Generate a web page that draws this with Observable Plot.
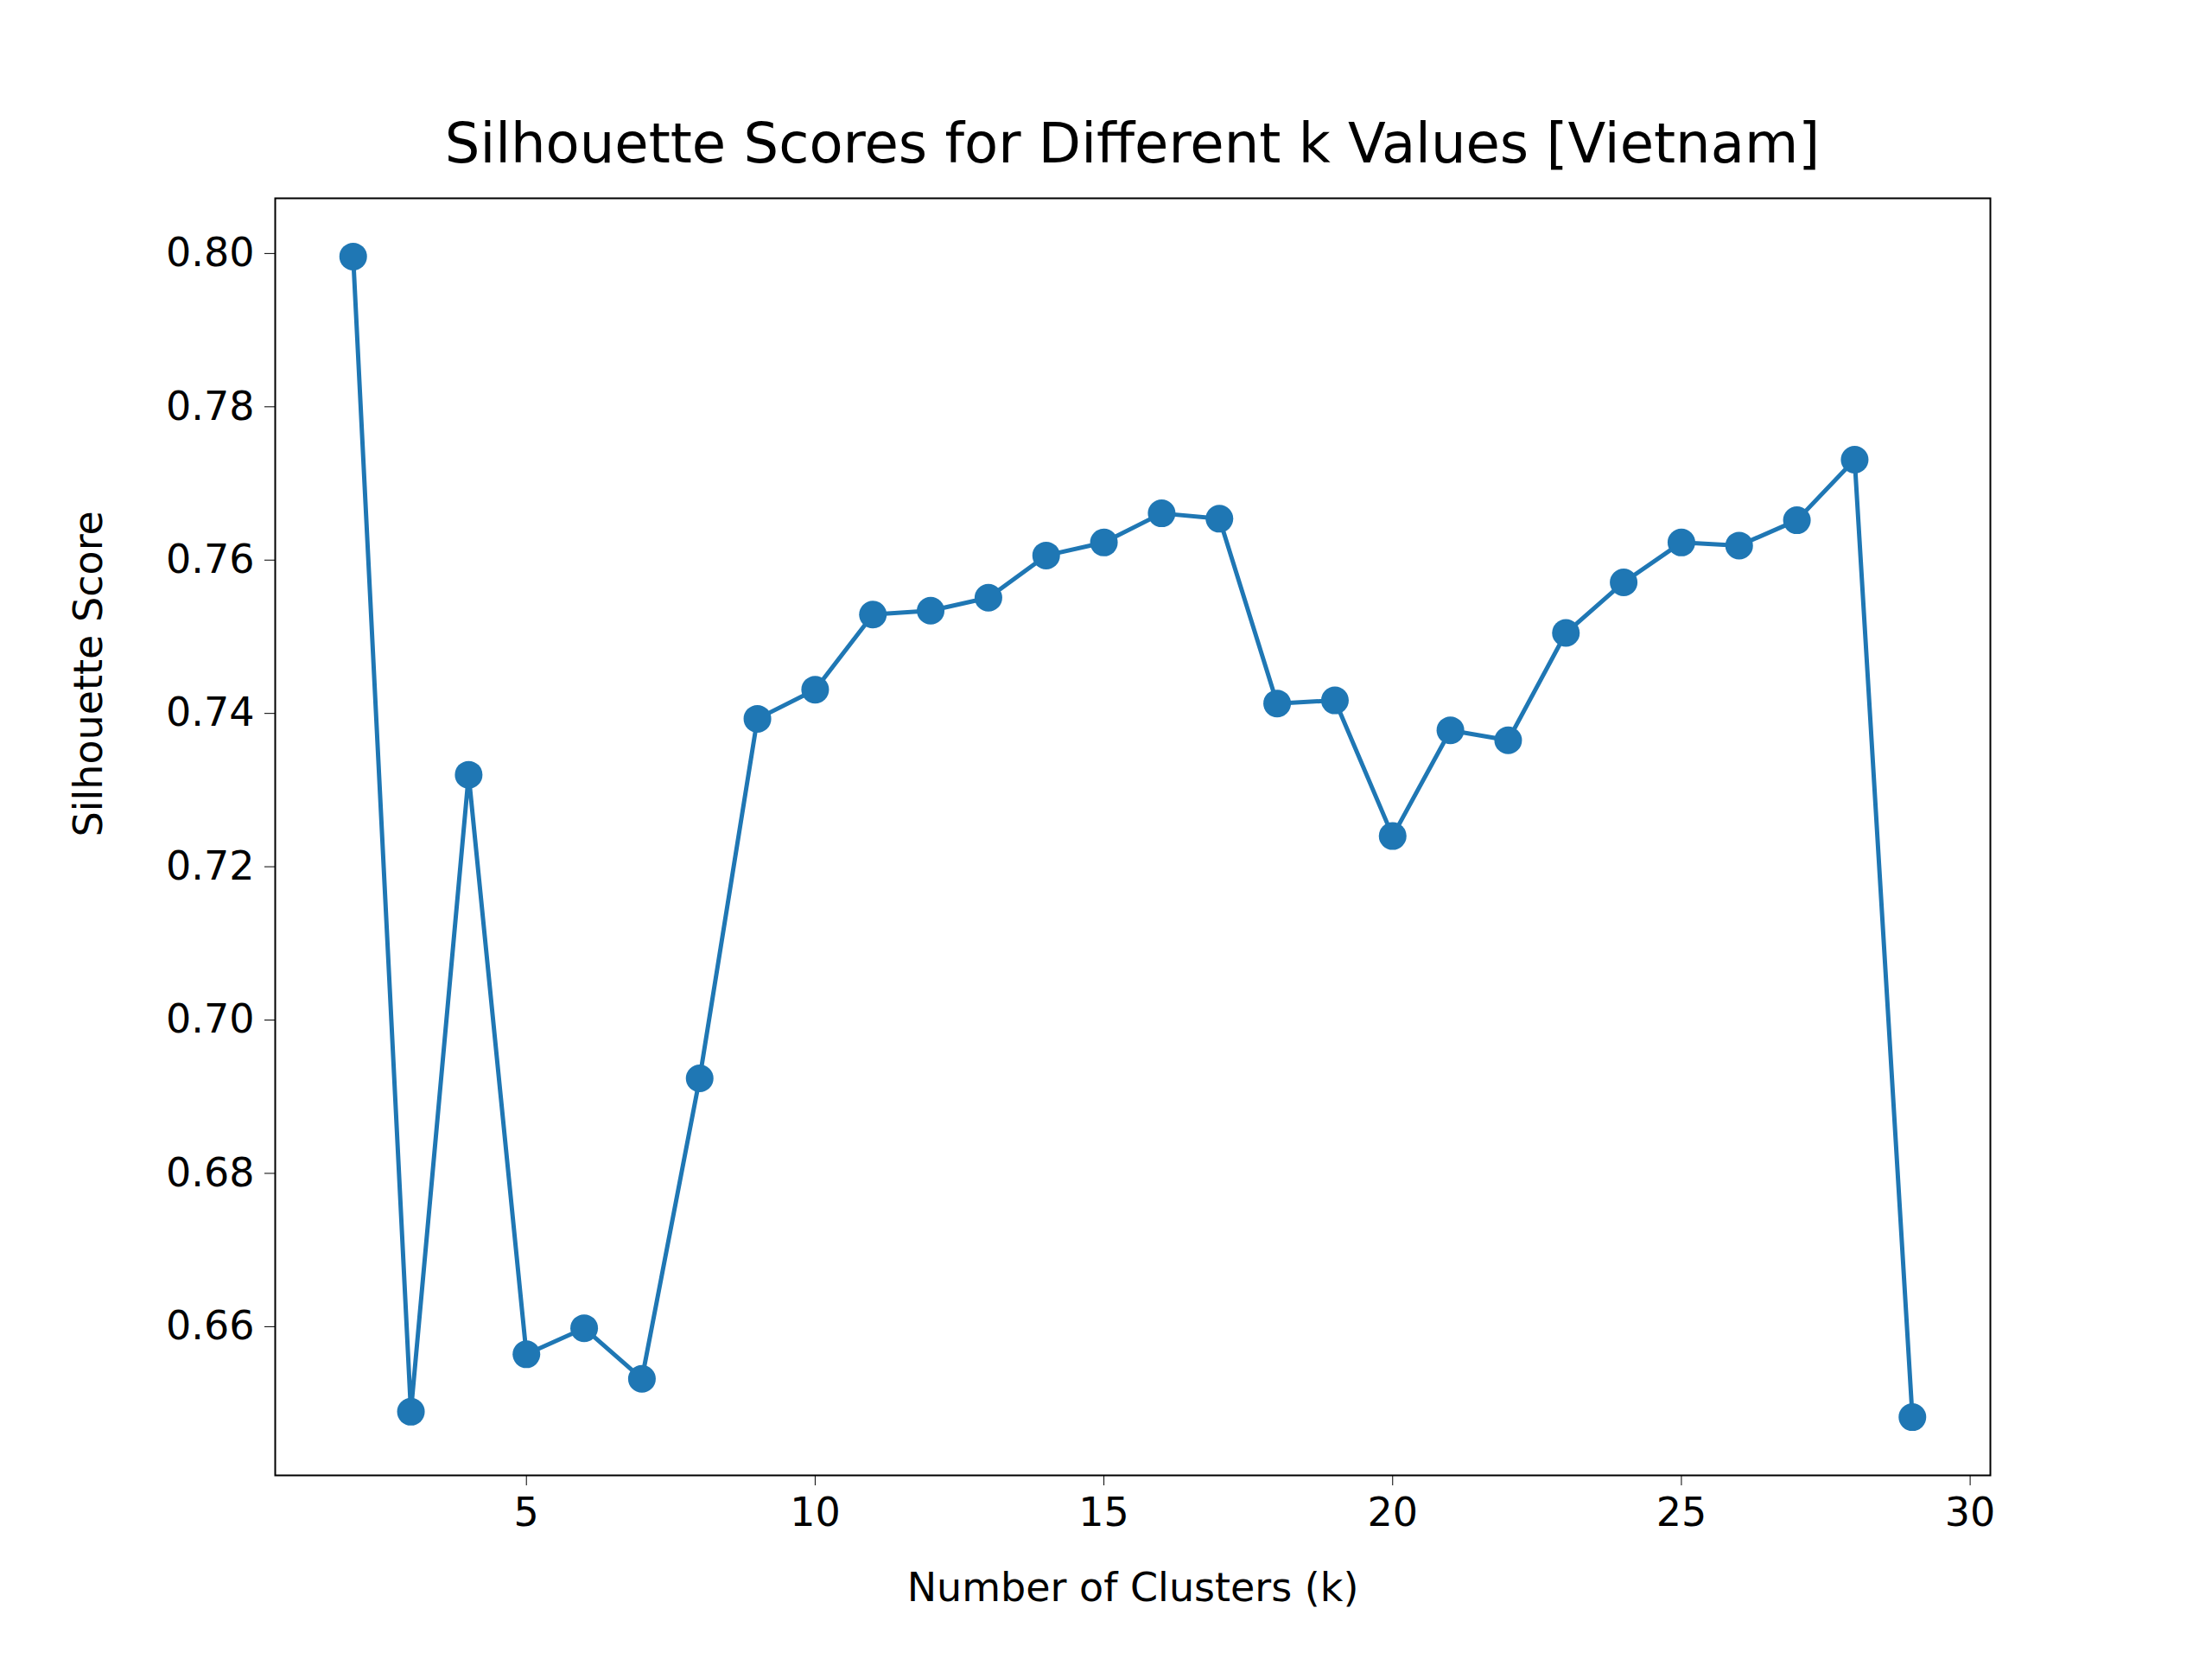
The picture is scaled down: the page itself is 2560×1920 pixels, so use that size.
<!DOCTYPE html>
<html><head><meta charset="utf-8">
<script src="https://cdn.jsdelivr.net/npm/d3@7"></script>
<script src="https://cdn.jsdelivr.net/npm/@observablehq/plot@0.6"></script>
<style>
body{margin:0;background:#fff;font-family:"DejaVu Sans",sans-serif;}
#title{position:absolute;left:318px;width:1985px;top:128px;text-align:center;font-size:64px;line-height:76px;color:#000;}
#chart{position:absolute;left:0;top:200px;}
</style></head><body>
<div id="title">Silhouette Scores for Different k Values [Vietnam]</div>
<div id="chart"></div>
<script>
const ks = [2,3,4,5,6,7,8,9,10,11,12,13,14,15,16,17,18,19,20,21,22,23,24,25,26,27,28,29];
const scores = [0.7996,0.6489,0.7320,0.6564,0.6598,0.6532,0.6924,0.7393,0.7431,0.7529,0.7534,0.7551,0.7606,0.7623,0.7661,0.7654,0.7413,0.7417,0.7240,0.7378,0.7365,0.7505,0.7571,0.7623,0.7619,0.7652,0.7731,0.6482];
const xTicks = [5,10,15,20,25,30];
const yTicks = [0.66,0.68,0.70,0.72,0.74,0.76,0.78,0.80];
const xLabel = "Number of Clusters (k)";
const yLabel = "Silhouette Score";
const data = ks.map((k,i)=>({k, s: scores[i]}));
const plot = Plot.plot({
  width: 2560, height: 1720,
  marginLeft: 318, marginRight: 257, marginTop: 29, marginBottom: 213,
  style: {fontFamily: "DejaVu Sans", fontSize: "46px", color: "#000", background: "#fff", overflow: "visible"},
  x: {domain: [0.65, 30.35]},
  y: {domain: [0.6406, 0.8072]},
  marks: [
    Plot.frame({stroke: "#000", strokeWidth: 2}),
    Plot.axisX({ticks: xTicks, tickFormat: d3.format("d"), tickSize: 12, tickPadding: 14, label: null, fontSize: 46}),
    Plot.axisY({ticks: yTicks, tickFormat: d3.format(".2f"), tickSize: 12, tickPadding: 12, label: null, fontSize: 46}),
    Plot.text([xLabel], {frameAnchor: "bottom", text: d => d, dy: 145, fontSize: 46, fill: "#000"}),
    Plot.text([yLabel], {frameAnchor: "left", text: d => d, dx: -215, rotate: -90, fontSize: 46, fill: "#000"}),
    Plot.line(data, {x: "k", y: "s", stroke: "#1f77b4", strokeWidth: 5}),
    Plot.dot(data, {x: "k", y: "s", fill: "#1f77b4", r: 16})
  ]
});
document.getElementById("chart").appendChild(plot);
</script></body></html>
